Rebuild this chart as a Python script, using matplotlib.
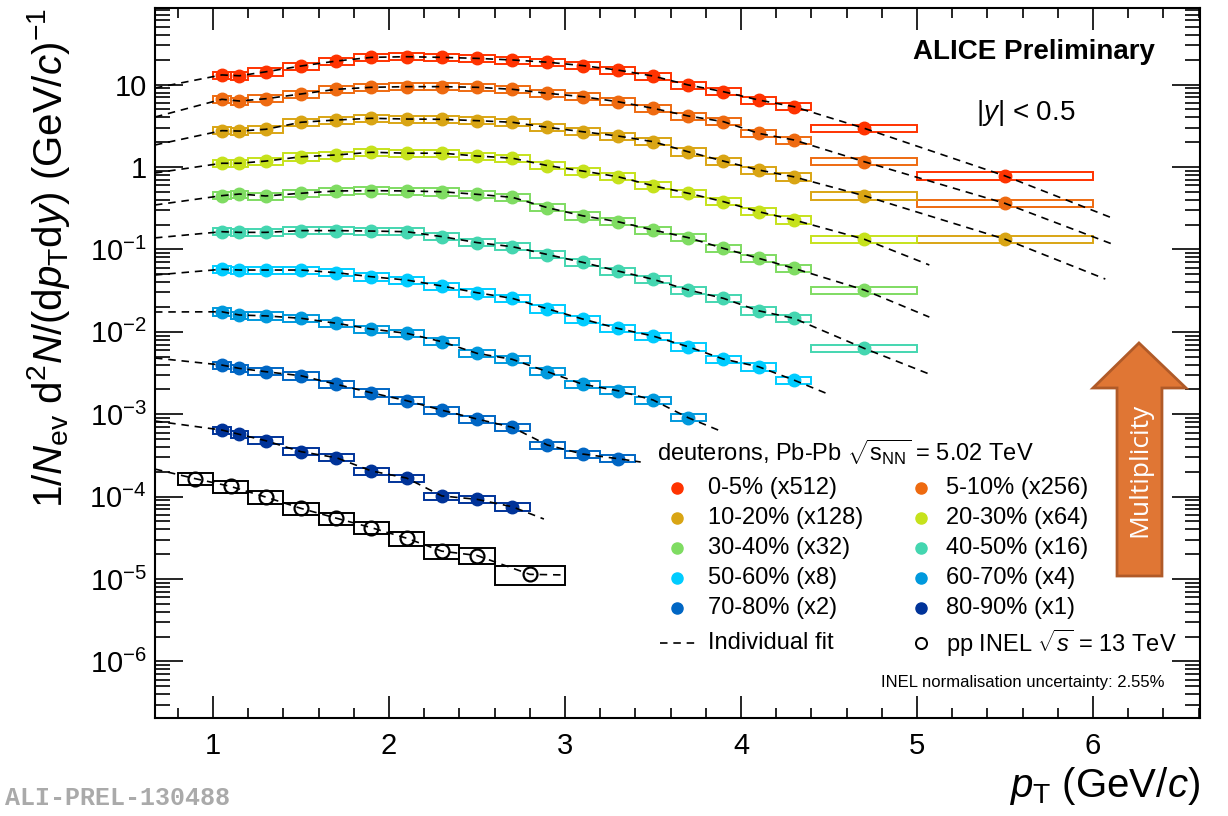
import matplotlib
matplotlib.use("Agg")
import matplotlib.pyplot as plt
from matplotlib.patches import Rectangle, Polygon
from matplotlib.ticker import MultipleLocator, LogLocator, FixedLocator, FuncFormatter, NullFormatter

plt.rcParams['font.family'] = ['Liberation Sans', 'DejaVu Sans']
plt.rcParams['mathtext.fontset'] = 'custom'
plt.rcParams['mathtext.rm'] = 'Liberation Sans'
plt.rcParams['mathtext.it'] = 'Liberation Sans:italic'
plt.rcParams['mathtext.bf'] = 'Liberation Sans:bold'

# pT bin edges (GeV/c)
pbpb_edges = [1.0, 1.1, 1.2, 1.4, 1.6, 1.8, 2.0, 2.2, 2.4, 2.6, 2.8, 3.0,
              3.2, 3.4, 3.6, 3.8, 4.0, 4.2, 4.4, 5.0, 6.0]
pp_edges = [0.8, 1.0, 1.2, 1.4, 1.6, 1.8, 2.0, 2.2, 2.4, 2.6, 3.0]

cent_labels = ["0-5%", "5-10%", "10-20%", "20-30%", "30-40%",
               "40-50%", "50-60%", "60-70%", "70-80%", "80-90%"]
scale_labels = ["x512", "x256", "x128", "x64", "x32", "x16", "x8", "x4", "x2", "x1"]
colors = ["#ff3300", "#ee6a10", "#d9a514", "#c6e21c", "#7fdc62",
          "#44d6b0", "#00ccff", "#0099dd", "#0066c4", "#003399"]

# scaled yields
d_0_5 = [13.1, 12.8, 14.3, 16.8, 19.3, 21.4, 21.8, 21.4, 20.8, 19.9,
         18.7, 17.0, 15.0, 12.7, 9.9, 8.2, 6.5, 5.4, 2.95, 0.78]
d_5_10 = [6.63, 6.32, 6.74, 7.69, 8.77, 9.27, 9.44, 9.44, 9.27, 8.77,
          7.84, 7.13, 6.20, 5.16, 4.16, 3.55, 2.56, 2.13, 1.16, 0.362]
d_10_20 = [2.76, 2.73, 2.87, 3.49, 3.72, 3.90, 3.82, 3.79, 3.65, 3.49,
           3.03, 2.68, 2.38, 2.03, 1.53, 1.18, 0.92, 0.76, 0.448, 0.133]
d_20_30 = [1.11, 1.11, 1.18, 1.33, 1.40, 1.51, 1.47, 1.47, 1.36, 1.28,
           1.04, 0.894, 0.763, 0.593, 0.480, 0.380, 0.287, 0.228, 0.133]
d_30_40 = [0.449, 0.470, 0.445, 0.480, 0.512, 0.516, 0.512, 0.501, 0.466, 0.429,
           0.321, 0.256, 0.217, 0.172, 0.139, 0.103, 0.078, 0.059, 0.0322]
d_40_50 = [0.164, 0.161, 0.161, 0.169, 0.169, 0.167, 0.164, 0.143, 0.121, 0.108,
           0.0867, 0.0697, 0.0547, 0.0434, 0.0322, 0.0255, 0.0180, 0.0146, 0.0063]
d_50_60 = [0.0574, 0.0562, 0.0562, 0.0562, 0.0522, 0.0466, 0.0425, 0.0360, 0.0298,
           0.0255, 0.0190, 0.0143, 0.0110, 0.00889, 0.00659, 0.00467, 0.00377, 0.00260]
d_60_70 = [0.0175, 0.0160, 0.0156, 0.0146, 0.0127, 0.0108, 0.00959, 0.00759,
           0.00548, 0.00464, 0.00328, 0.00231, 0.00193, 0.00149, 0.000907]
d_70_80 = [0.00395, 0.00360, 0.00328, 0.00293, 0.00231, 0.00182, 0.00146,
           0.00112, 0.000875, 0.000694, 0.000423, 0.000329, 0.000289]
d_80_90 = [0.000643, 0.000570, 0.000477, 0.000351, 0.000297, 0.000205,
           0.000168, 0.000102, 0.0000927, 0.0000754]
pbpb_yields = [d_0_5, d_5_10, d_10_20, d_20_30, d_30_40,
               d_40_50, d_50_60, d_60_70, d_70_80, d_80_90]
pbpb_syst = 0.10

pp_yield = [1.65e-4, 1.33e-4, 9.87e-5, 7.2e-5, 5.48e-5, 4.2e-5,
            3.13e-5, 2.18e-5, 1.93e-5, 1.14e-5]
pp_syst = [0.16, 0.16, 0.18, 0.17, 0.17, 0.16, 0.20, 0.19, 0.22, 0.26]

# individual fits: value at the left edge, end point
fit_x0 = 0.67
fit_start = [9.09, 4.04, 1.85, 0.846, 0.346, 0.138, 0.0489, 0.0174, 0.00481, 0.000827]
fit_end_x = [6.11, 6.11, 6.07, 5.07, 5.07, 5.07, 4.48, 3.87, 3.43, 2.88]
fit_end = [0.240, 0.116, 0.0437, 0.0647, 0.0151, 0.00307, 0.00181, 0.000643, 0.000263, 5.35e-5]
pp_fit_start = 2.16e-4
pp_fit_end_x = 3.0
pp_fit_end = 1.12e-5

x_ticks = [1, 2, 3, 4, 5, 6]
y_ticks = [1e-6, 1e-5, 1e-4, 1e-3, 1e-2, 1e-1, 1, 10]

fig = plt.figure(figsize=(12.28, 8.16), dpi=100)
ax = fig.add_axes([0.1262, 0.1201, 0.8510, 0.8701])
ax.set_yscale('log')
ax.set_xlim(0.67, 6.608)
ax.set_ylim(2.06e-7, 85)

dash = (0, (4.5, 3.5))

for vals, col, f0, fx, f1 in zip(pbpb_yields, colors, fit_start, fit_end_x, fit_end):
    lo = pbpb_edges[:len(vals)]
    hi = pbpb_edges[1:len(vals) + 1]
    xc = [(a + b) / 2 for a, b in zip(lo, hi)]
    for a, b, v in zip(lo, hi, vals):
        ax.add_patch(Rectangle((a, v * (1 - pbpb_syst)), b - a, 2 * pbpb_syst * v,
                               fill=False, ec=col, lw=1.4, zorder=2))
    ax.plot(xc, vals, 'o', color=col, ms=9, mec=col, zorder=3)
    ax.plot([fit_x0] + xc + [fx], [f0] + vals + [f1], color='black', ls=dash, lw=1.2, zorder=4)

lo = pp_edges[:-1]
hi = pp_edges[1:]
xc = [(a + b) / 2 for a, b in zip(lo, hi)]
for a, b, v, s in zip(lo, hi, pp_yield, pp_syst):
    ax.add_patch(Rectangle((a, v * (1 - s)), b - a, 2 * s * v,
                           fill=False, ec='black', lw=1.4, zorder=2))
ax.plot(xc, pp_yield, 'o', mfc='none', mec='black', mew=1.6, ms=10, zorder=3)
ax.plot([fit_x0] + xc + [pp_fit_end_x], [pp_fit_start] + pp_yield + [pp_fit_end],
        color='black', ls=dash, lw=1.2, zorder=4)

# axes style (ROOT like)
ax.xaxis.set_major_locator(FixedLocator(x_ticks))
ax.xaxis.set_minor_locator(MultipleLocator(0.2))
ax.yaxis.set_major_locator(FixedLocator(y_ticks))
ax.yaxis.set_minor_locator(LogLocator(base=10, subs=range(2, 10), numticks=100))
ax.yaxis.set_minor_formatter(NullFormatter())


def ylab(v, pos):
    e = int(round(__import__('math').log10(v)))
    if e == 0:
        return "1"
    if e == 1:
        return "10"
    return r"$10^{%d}$" % e


ax.yaxis.set_major_formatter(FuncFormatter(ylab))
ax.tick_params(which='both', direction='in', top=True, right=True, width=1.2)
ax.tick_params(axis='x', which='major', length=16, labelsize=21, pad=10)
ax.tick_params(axis='x', which='minor', length=7.5)
ax.tick_params(axis='y', which='major', length=20, labelsize=21, pad=6)
ax.tick_params(axis='y', which='minor', length=11)
for sp in ax.spines.values():
    sp.set_linewidth(1.5)

ax.set_xlabel(r"$p_{\rm T}$ (GeV/$c$)", fontsize=29, loc='right')
ax.xaxis.set_label_coords(1.0, -0.066)
ax.set_ylabel(r"1/$N_{\rm ev}$ d$^{2}$$N$/(d$p_{\rm T}$d$y$) (GeV/$c$)$^{-1}$",
              fontsize=29, loc='top')
ax.yaxis.set_label_coords(-0.079, 1.0)

ax.text(0.957, 0.938, "ALICE Preliminary", transform=ax.transAxes, ha='right',
        va='center', fontsize=20, fontweight='bold')
ax.text(0.8335, 0.852, r"|$y$| < 0.5", transform=ax.transAxes, ha='center',
        va='center', fontsize=20)

# legend block
ax.text(0.4804, 0.3746, r"deuterons, Pb-Pb $\sqrt{\mathrm{s}_{\rm NN}}$ = 5.02 TeV",
        transform=ax.transAxes, ha='left', va='center', fontsize=17)
row_y = [0.3239, 0.2817, 0.2394, 0.1972, 0.1549]
for i, (lab, sc, col) in enumerate(zip(cent_labels, scale_labels, colors)):
    r = i // 2
    mx, tx = (0.4995, 0.5292) if i % 2 == 0 else (0.7330, 0.7569)
    ax.plot([mx], [row_y[r]], 'o', color=col, ms=8, transform=ax.transAxes, clip_on=False)
    ax.text(tx, row_y[r], f"{lab} ({sc})", transform=ax.transAxes, ha='left',
            va='center', fontsize=17)
ax.plot([0.4833, 0.5215], [0.1056, 0.1056], color='black', ls=dash, lw=1.2,
        transform=ax.transAxes)
ax.text(0.5292, 0.1056, "Individual fit", transform=ax.transAxes, ha='left',
        va='center', fontsize=17)
ax.plot([0.7330], [0.1056], 'o', mfc='none', mec='black', mew=1.4, ms=8,
        transform=ax.transAxes)
ax.text(0.7569, 0.1056, r"pp INEL $\sqrt{s}$ = 13 TeV", transform=ax.transAxes,
        ha='left', va='center', fontsize=17)
ax.text(0.9665, 0.0507, "INEL normalisation uncertainty: 2.55%", transform=ax.transAxes,
        ha='right', va='center', fontsize=12)

# multiplicity arrow
arrow = [(0.9416, 0.5282), (0.8976, 0.4648), (0.9206, 0.4648), (0.9206, 0.2000),
         (0.9636, 0.2000), (0.9636, 0.4648), (0.9866, 0.4648)]
ax.add_patch(Polygon(arrow, closed=True, transform=ax.transAxes, fc='#e07634',
                     ec='#b05a28', lw=2, zorder=5))
ax.text(0.9421, 0.3493, "Multiplicity", transform=ax.transAxes, rotation=90,
        ha='center', va='center', color='white', fontsize=19,
        family=['Open Sans', 'DejaVu Sans'], zorder=6)

fig.text(0.004, 0.014, "ALI-PREL-130488", fontsize=18, fontweight='bold',
         color='#aaaaaa', family=['Liberation Mono', 'DejaVu Sans Mono'])

fig.savefig("out.png", dpi=100)
